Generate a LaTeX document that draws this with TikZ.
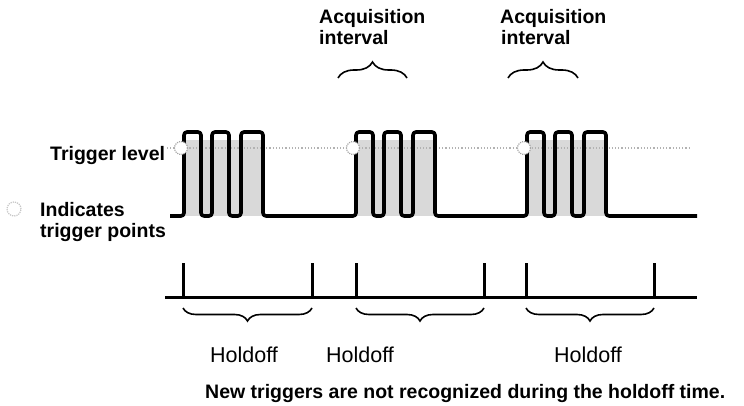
\documentclass[tikz,border=0pt]{standalone}
\usepackage{fontspec}
\setmainfont{Liberation Sans}
\usetikzlibrary{decorations.pathreplacing}

\begin{document}
\begin{tikzpicture}[x=1pt, y=-1pt,
  wave/.style={line width=3.6pt, rounded corners=3pt, line join=round},
  burstfill/.style={fill=gray!30},
  triglevel/.style={draw=gray!60, dotted, line width=1.2pt},
  trigpt/.style={circle, draw=gray!70, densely dotted, line width=1.2pt, fill=white, minimum size=13pt, inner sep=0pt},
  timebar/.style={line width=3pt},
  curly/.style={decorate, decoration={brace, amplitude=13pt}, line width=1.6pt},
  lbl/.style={font=\fontsize{19.5}{19.5}\selectfont\bfseries, inner sep=0pt, anchor=base west},
  hold/.style={font=\fontsize{21.5}{21.5}\selectfont, inner sep=0pt, anchor=base}]

  \useasboundingbox (0,0) rectangle (744,406);

  % 1. gray persistence behind each burst, trigger level
  \foreach \s in {184,356,527}
    \fill[burstfill] (\s,140) rectangle ++(79,76);
  \draw[triglevel] (167,148) -- (690,148);

  % 2. waveform: three bursts of three pulses
  \draw[wave] (170,216)
    \foreach \s in {184,356,527}{
      -- (\s,216) -- (\s,132) -- ++(17,0) -- ++(0,84) -- ++(11,0) -- ++(0,-84)
      -- ++(17,0) -- ++(0,84) -- ++(12,0) -- ++(0,-84) -- ++(22,0) -- ++(0,84)
    } -- (697,216);

  % 3. trigger points
  \node[trigpt] (trig1) at (181,148) {};
  \node[trigpt] (trig2) at (353,148) {};
  \node[trigpt] (trig3) at (524,148) {};

  % 4. text on the left
  \node[lbl] (triglbl) at (50,161) {Trigger level};
  \node[trigpt, minimum size=14pt, draw=gray!45] (legend) at (14,209) {};
  \node[lbl] (ind1) at (40,216) {Indicates};
  \node[lbl] (ind2) at (40,237) {trigger points};

  % 5. acquisition intervals (braces point up)
  \draw[curly, decoration={amplitude=16pt}] (338,78) -- (407,78);
  \draw[curly, decoration={amplitude=16pt}] (508,78) -- (578,78);
  \node[lbl] (acq1a) at (319,24) {Acquisition};
  \node[lbl] (acq1b) at (319,45) {interval};
  \node[lbl] (acq2a) at (500,24) {Acquisition};
  \node[lbl] (acq2b) at (501,45) {interval};

  % 6. holdoff time line
  \draw[timebar] (165,297) -- (697,297);
  \foreach \t in {183,312,356,484,526,654}
    \draw[timebar] (\t,263) -- (\t,297);

  % 7. holdoff braces (point down)
  \draw[curly, decoration={mirror}] (183,308) -- (312,308);
  \draw[curly, decoration={mirror}] (356,308) -- (484,308);
  \draw[curly, decoration={mirror}] (526,308) -- (654,308);
  \node[hold] (hold1) at (244,362) {Holdoff};
  \node[hold] (hold2) at (360,362) {Holdoff};
  \node[hold] (hold3) at (588,362) {Holdoff};

  % 8. note
  \node[lbl] (note) at (205,398)
    {New triggers are not recognized during the holdoff time.};

\end{tikzpicture}
\end{document}
